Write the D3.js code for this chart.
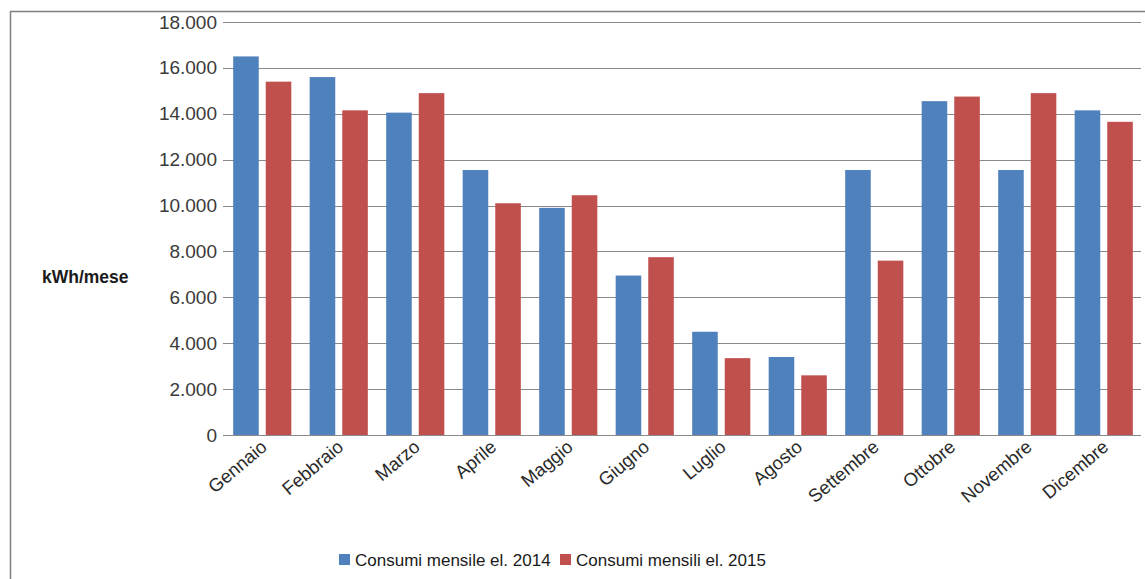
<!DOCTYPE html>
<html>
<head>
<meta charset="utf-8">
<script src="https://cdn.jsdelivr.net/npm/d3@7"></script>
<style>
  html, body { margin: 0; padding: 0; background: #fff; }
  svg { display: block; }
</style>
</head>
<body>
<svg id="chart" width="1145" height="579"></svg>
<script>
const months = ["Gennaio","Febbraio","Marzo","Aprile","Maggio","Giugno","Luglio","Agosto","Settembre","Ottobre","Novembre","Dicembre"];
const seriesNames = ["Consumi mensile el. 2014","Consumi mensili el. 2015"];
const values2014 = [16500, 15600, 14050, 11550, 9900, 6950, 4500, 3400, 11550, 14550, 11550, 14150];
const values2015 = [15400, 14150, 14900, 10100, 10450, 7750, 3350, 2600, 7600, 14750, 14900, 13650];
const yTicks = [0, 2000, 4000, 6000, 8000, 10000, 12000, 14000, 16000, 18000];
const yTitle = "kWh/mese";
const colors = ["#4F81BD", "#C0504D"];

const svg = d3.select("#chart");
const W = 1145, H = 579;

// outer frame
svg.append("rect")
  .attr("x", 10.5).attr("y", 11.5)
  .attr("width", W + 20).attr("height", H + 20)
  .attr("fill", "#fff").attr("stroke", "#7f7f7f").attr("stroke-width", 1.5);

const pLeft = 224, pRight = 1142, pTop = 22, pBottom = 435;

const x = d3.scaleBand().domain(months).range([pLeft, pRight]).paddingInner(0.24).paddingOuter(0.12);
const xs = d3.scaleBand().domain([0, 1]).range([0, x.bandwidth()]).paddingInner(0.215);
const y = d3.scaleLinear().domain([0, 18000]).range([pBottom, pTop]);

const loc = d3.formatLocale({decimal: ",", thousands: ".", grouping: [3], currency: ["", "€"]});
const fmt = loc.format(",");

// gridlines
svg.append("g").selectAll("line").data(yTicks).join("line")
  .attr("x1", pLeft - 1).attr("x2", pRight - 1)
  .attr("y1", d => Math.round(y(d)) + 0.5).attr("y2", d => Math.round(y(d)) + 0.5)
  .attr("stroke", "#8a8a8a").attr("stroke-width", 1.2);

// y axis labels
const yAxis = d3.axisLeft(y).tickValues(yTicks).tickFormat(fmt).tickSize(0).tickPadding(7);
const gy = svg.append("g").attr("transform", `translate(${pLeft},0)`).call(yAxis);
gy.select(".domain").remove();
gy.selectAll("text")
  .attr("font-family", "'Liberation Sans', Arial, sans-serif")
  .attr("font-size", 19).attr("fill", "#3a3a3a");

// bars
const data = months.map((m, i) => ({m, v: [values2014[i], values2015[i]]}));
const groups = svg.append("g").selectAll("g").data(data).join("g")
  .attr("transform", d => `translate(${x(d.m)},0)`);
groups.selectAll("rect").data(d => d.v.map((v, k) => ({v, k}))).join("rect")
  .attr("x", d => xs(d.k)).attr("width", xs.bandwidth())
  .attr("y", d => y(d.v)).attr("height", d => y(0) - y(d.v))
  .attr("fill", d => colors[d.k]);

// x axis labels
const xAxis = d3.axisBottom(x).tickSize(0).tickPadding(0);
const gx = svg.append("g").attr("transform", `translate(0,${pBottom})`).call(xAxis);
gx.select(".domain").remove();
gx.selectAll("text")
  .attr("font-family", "'Liberation Sans', Arial, sans-serif")
  .attr("font-size", 18.5).attr("fill", "#2a2a2a")
  .attr("text-anchor", "end")
  .attr("dy", 0)
  .attr("transform", "translate(6,14) rotate(-40)");

// y title
svg.append("text").attr("x", 42).attr("y", 283)
  .attr("font-family", "'Liberation Sans', Arial, sans-serif")
  .attr("font-weight", "bold").attr("font-size", 17.5).attr("fill", "#1a1a1a")
  .text(yTitle);

// legend
const legX = [339, 560];
const leg = svg.append("g").selectAll("g").data(seriesNames).join("g")
  .attr("transform", (d, i) => `translate(${legX[i]},554)`);
leg.append("rect").attr("width", 11).attr("height", 11).attr("fill", (d, i) => colors[i]);
leg.append("text").attr("x", 16).attr("y", 11.5)
  .attr("font-family", "'Liberation Sans', Arial, sans-serif")
  .attr("font-size", 17).attr("fill", "#1a1a1a")
  .text(d => d);
</script>
</body>
</html>
